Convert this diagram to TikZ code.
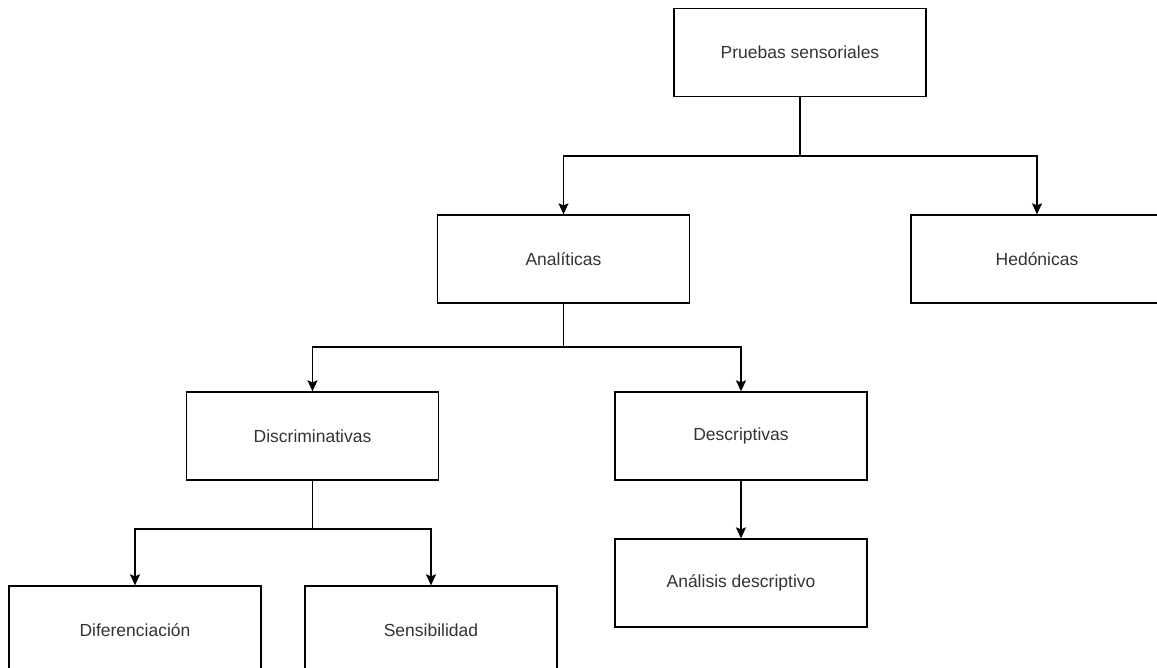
\documentclass[tikz,border=0pt]{standalone}
\usepackage{fontspec}
\setmainfont{Liberation Sans}
\usetikzlibrary{arrows.meta}
\definecolor{txt}{HTML}{333333}
\begin{document}
\begin{tikzpicture}[x=1pt,y=-1pt,
  box/.style={draw=black, line width=1.3pt, fill=white, minimum width=252pt, minimum height=88pt, inner sep=0pt, text=txt, font=\fontsize{17.5}{20}\selectfont},
  conn/.style={draw=black, line width=1.3pt, -{Stealth[length=11pt,width=10pt,inset=2pt]}}]
\useasboundingbox (0,0) rectangle (1157,668);
\clip (0,0) rectangle (1157,668);
\node[box] (p) at (800,52.5) {Pruebas sensoriales};
\node[box] (a) at (563.5,259) {Analíticas};
\node[box] (h) at (1037,259) {Hedónicas};
\node[box] (d) at (312.5,436) {Discriminativas};
\node[box] (de) at (741,436) {Descriptivas};
\node[box] (ad) at (741,583) {Análisis descriptivo};
\node[box] (di) at (135,630) {Diferenciación};
\node[box] (s) at (431,630) {Sensibilidad};
\draw[conn] (p.south) |- (563.5,156) -- (a.north);
\draw[conn] (p.south) |- (1037,156) -- (h.north);
\draw[conn] (a.south) |- (312.5,347) -- (d.north);
\draw[conn] (a.south) |- (741,347) -- (de.north);
\draw[conn] (d.south) |- (135,529) -- (di.north);
\draw[conn] (d.south) |- (431,529) -- (s.north);
\draw[conn] (de.south) -- (ad.north);
\end{tikzpicture}
\end{document}
